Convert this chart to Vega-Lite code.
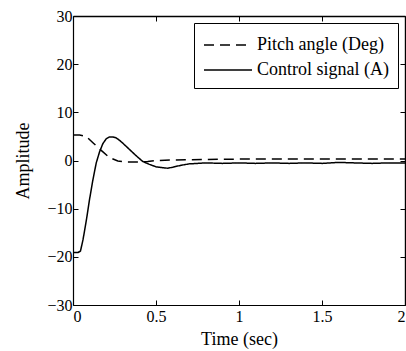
{
  "$schema": "https://vega.github.io/schema/vega-lite/v6.json",
  "width": 332,
  "height": 289,
  "autosize": {"type": "none"},
  "padding": {"left": 73, "top": 16, "right": 1, "bottom": 46},
  "background": "white",
  "config": {
    "view": {"stroke": null},
    "font": "Liberation Serif",
    "axis": {
      "domainColor": "black", "domainWidth": 1.2, "tickColor": "black", "tickWidth": 1,
      "labelColor": "black", "titleColor": "black", "labelFont": "Liberation Serif",
      "titleFont": "Liberation Serif", "labelFontSize": 16, "titleFontSize": 18,
      "titleFontWeight": "normal", "grid": false, "tickSize": -5
    },
    "legend": {"labelFont": "Liberation Serif", "labelFontSize": 18, "labelColor": "black"}
  },
  "datasets": {
    "series": [
      {"t": 0, "v": 5.3, "s": "Pitch angle (Deg)"},
      {"t": 0.04, "v": 5.3, "s": "Pitch angle (Deg)"},
      {"t": 0.08, "v": 5.0, "s": "Pitch angle (Deg)"},
      {"t": 0.12, "v": 3.7, "s": "Pitch angle (Deg)"},
      {"t": 0.17, "v": 2.1, "s": "Pitch angle (Deg)"},
      {"t": 0.22, "v": 0.6, "s": "Pitch angle (Deg)"},
      {"t": 0.27, "v": -0.1, "s": "Pitch angle (Deg)"},
      {"t": 0.32, "v": -0.3, "s": "Pitch angle (Deg)"},
      {"t": 0.4, "v": -0.3, "s": "Pitch angle (Deg)"},
      {"t": 0.45, "v": -0.2, "s": "Pitch angle (Deg)"},
      {"t": 0.5, "v": 0.0, "s": "Pitch angle (Deg)"},
      {"t": 0.6, "v": 0.1, "s": "Pitch angle (Deg)"},
      {"t": 0.8, "v": 0.2, "s": "Pitch angle (Deg)"},
      {"t": 1.0, "v": 0.3, "s": "Pitch angle (Deg)"},
      {"t": 1.5, "v": 0.3, "s": "Pitch angle (Deg)"},
      {"t": 2.0, "v": 0.3, "s": "Pitch angle (Deg)"},
      {"t": 0, "v": -19.1, "s": "Control signal (A)"},
      {"t": 0.03, "v": -19.1, "s": "Control signal (A)"},
      {"t": 0.045, "v": -18.8, "s": "Control signal (A)"},
      {"t": 0.06, "v": -16.5, "s": "Control signal (A)"},
      {"t": 0.08, "v": -12.5, "s": "Control signal (A)"},
      {"t": 0.1, "v": -8.0, "s": "Control signal (A)"},
      {"t": 0.12, "v": -4.0, "s": "Control signal (A)"},
      {"t": 0.14, "v": -0.5, "s": "Control signal (A)"},
      {"t": 0.16, "v": 1.8, "s": "Control signal (A)"},
      {"t": 0.18, "v": 3.5, "s": "Control signal (A)"},
      {"t": 0.2, "v": 4.5, "s": "Control signal (A)"},
      {"t": 0.22, "v": 4.9, "s": "Control signal (A)"},
      {"t": 0.24, "v": 4.9, "s": "Control signal (A)"},
      {"t": 0.26, "v": 4.7, "s": "Control signal (A)"},
      {"t": 0.28, "v": 4.2, "s": "Control signal (A)"},
      {"t": 0.3, "v": 3.6, "s": "Control signal (A)"},
      {"t": 0.34, "v": 2.3, "s": "Control signal (A)"},
      {"t": 0.38, "v": 1.0, "s": "Control signal (A)"},
      {"t": 0.42, "v": -0.2, "s": "Control signal (A)"},
      {"t": 0.46, "v": -0.8, "s": "Control signal (A)"},
      {"t": 0.5, "v": -1.3, "s": "Control signal (A)"},
      {"t": 0.54, "v": -1.5, "s": "Control signal (A)"},
      {"t": 0.57, "v": -1.6, "s": "Control signal (A)"},
      {"t": 0.6, "v": -1.4, "s": "Control signal (A)"},
      {"t": 0.65, "v": -1.0, "s": "Control signal (A)"},
      {"t": 0.7, "v": -0.7, "s": "Control signal (A)"},
      {"t": 0.75, "v": -0.6, "s": "Control signal (A)"},
      {"t": 0.8, "v": -0.5, "s": "Control signal (A)"},
      {"t": 0.9, "v": -0.6, "s": "Control signal (A)"},
      {"t": 1.0, "v": -0.5, "s": "Control signal (A)"},
      {"t": 1.1, "v": -0.6, "s": "Control signal (A)"},
      {"t": 1.2, "v": -0.5, "s": "Control signal (A)"},
      {"t": 1.3, "v": -0.6, "s": "Control signal (A)"},
      {"t": 1.4, "v": -0.5, "s": "Control signal (A)"},
      {"t": 1.5, "v": -0.6, "s": "Control signal (A)"},
      {"t": 1.6, "v": -0.4, "s": "Control signal (A)"},
      {"t": 1.7, "v": -0.5, "s": "Control signal (A)"},
      {"t": 1.8, "v": -0.6, "s": "Control signal (A)"},
      {"t": 1.9, "v": -0.5, "s": "Control signal (A)"},
      {"t": 2.0, "v": -0.5, "s": "Control signal (A)"}
    ]
  },
  "data": {"name": "series"},
  "layer": [
    {
      "mark": {"type": "line", "color": "black", "strokeWidth": 1.5, "clip": true},
      "encoding": {
        "x": {"field": "t", "type": "quantitative", "scale": {"domain": [0, 2], "nice": false, "zero": false},
              "axis": {"values": [0, 0.5, 1, 1.5, 2], "format": "~r", "title": "Time (sec)", "labelPadding": 8, "titlePadding": 6}},
        "y": {"field": "v", "type": "quantitative", "scale": {"domain": [-30, 30], "nice": false},
              "axis": {"values": [-30, -20, -10, 0, 10, 20, 30], "format": "~r", "title": "Amplitude", "labelPadding": 6, "titlePadding": 14}},
        "strokeDash": {"field": "s", "type": "nominal",
          "scale": {"domain": ["Pitch angle (Deg)", "Control signal (A)"], "range": [[10, 6], [1, 0]]},
          "legend": {"title": null, "orient": "top-right", "offset": 7, "fillColor": "white", "strokeColor": "black",
                     "padding": 9, "symbolType": "M-1,0H3", "symbolSize": 576, "symbolStrokeWidth": 1.3,
                     "symbolStrokeColor": "black", "symbolFillColor": "transparent", "labelOffset": 28, "rowPadding": 3}}
      }
    },
    {
      "mark": {"type": "point", "opacity": 0},
      "encoding": {
        "x": {"field": "t", "type": "quantitative", "scale": {"domain": [0, 2], "nice": false, "zero": false},
              "axis": {"orient": "top", "values": [0, 0.5, 1, 1.5, 2], "labels": false, "title": null, "domainColor": "black", "domainWidth": 1.4, "tickColor": "black", "tickSize": -5}},
        "y": {"field": "v", "type": "quantitative", "scale": {"domain": [-30, 30], "nice": false},
              "axis": {"orient": "right", "values": [-30, -20, -10, 0, 10, 20, 30], "labels": false, "title": null, "domainColor": "black", "domainWidth": 1.4, "tickColor": "black", "tickSize": -5}}
      }
    }
  ],
  "resolve": {"scale": {"x": "independent", "y": "independent"}, "axis": {"x": "independent", "y": "independent"}}
}
